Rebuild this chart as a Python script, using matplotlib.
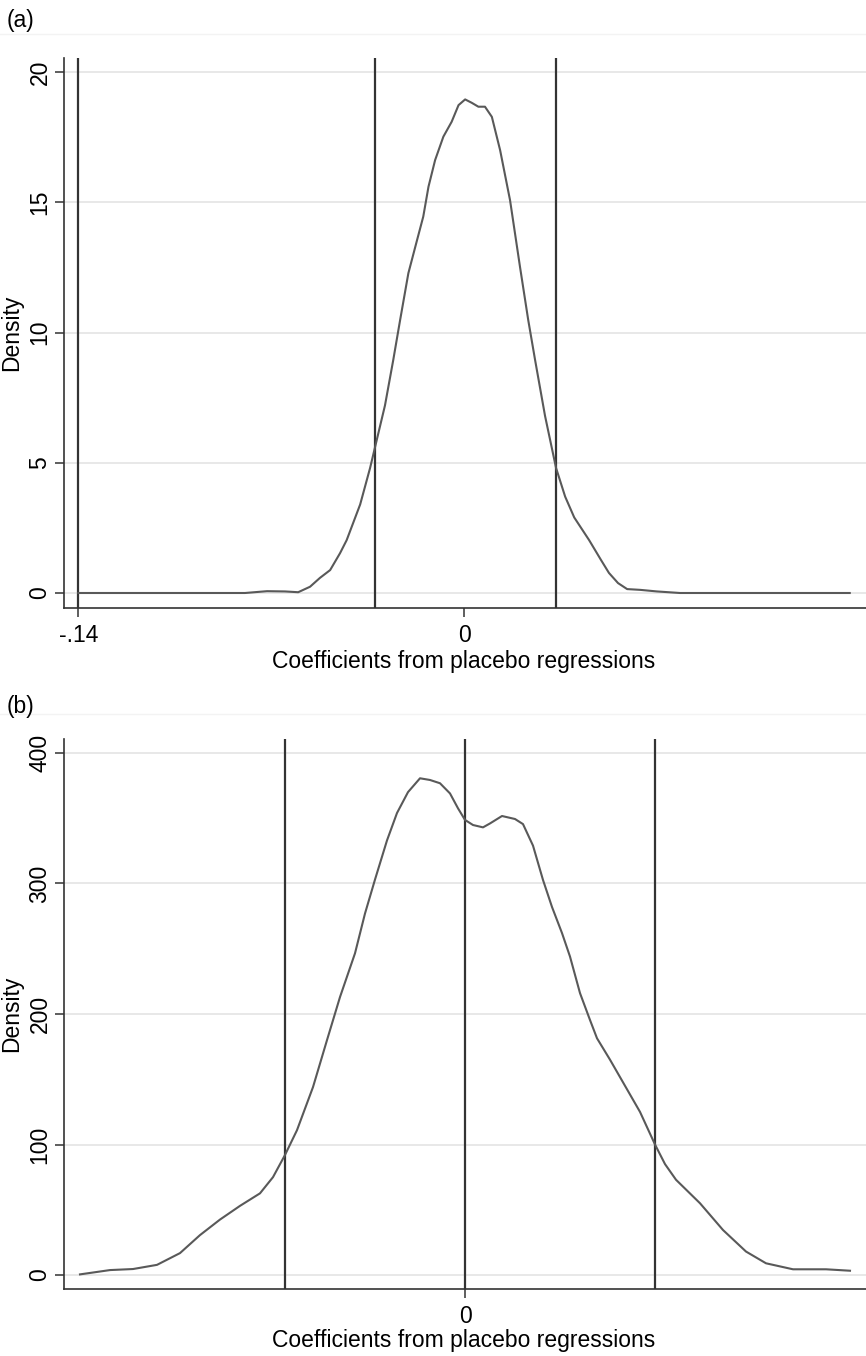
import matplotlib
matplotlib.use("Agg")
import matplotlib.pyplot as plt
from matplotlib.lines import Line2D

plt.rcParams["font.family"] = ["Liberation Sans", "DejaVu Sans"]

# ---- panel (a): kernel density of placebo coefficients -------------------
A_X = [-0.1400, -0.0813, -0.0795, -0.0715, -0.0650, -0.0602, -0.0559, -0.0523,
       -0.0486, -0.0450, -0.0426, -0.0377, -0.0341, -0.0323, -0.0287, -0.0257,
       -0.0232, -0.0202, -0.0172, -0.0148, -0.0129, -0.0105, -0.0075, -0.0045,
       -0.0020, 0.0004, 0.0028, 0.0052, 0.0076, 0.0101, 0.0131, 0.0167,
       0.0203, 0.0233, 0.0258, 0.0294, 0.0334, 0.0367, 0.0400, 0.0454,
       0.0497, 0.0526, 0.0559, 0.0592, 0.0640, 0.0700, 0.0784, 0.1400]
A_DENS = [0.0, 0.0, 0.0, 0.07, 0.06, 0.03, 0.24, 0.58,
          0.88, 1.53, 2.03, 3.4, 4.8, 5.6, 7.2, 8.94,
          10.48, 12.28, 13.49, 14.45, 15.60, 16.62, 17.52, 18.09,
          18.73, 18.95, 18.82, 18.67, 18.67, 18.28, 17.0, 15.08,
          12.53, 10.48, 8.94, 6.8, 4.8, 3.7, 2.9, 2.03,
          1.27, 0.77, 0.38, 0.15, 0.12, 0.06, 0.0, 0.0]
A_VLINES = [-0.14, -0.0323, 0.0334]
A_XTICKS = [-0.14, 0]
A_XTICKLABELS = ["-.14", "0"]
A_YTICKS = [0, 5, 10, 15, 20]

# ---- panel (b) -----------------------------------------------------------
B_X = [-0.00385, -0.00355, -0.00332, -0.00308, -0.00285, -0.00265, -0.00245,
       -0.00225, -0.00205, -0.00192, -0.00180, -0.00168, -0.00152, -0.00138,
       -0.00125, -0.00110, -0.00100, -0.00090, -0.00078, -0.00068, -0.00057,
       -0.00045, -0.00035, -0.00025, -0.00015, -0.00007, 0.0, 0.00008,
       0.00018, 0.00025, 0.00037, 0.00050, 0.00058, 0.00068, 0.00078,
       0.00087, 0.00097, 0.00105, 0.00115, 0.00125, 0.00132, 0.00145,
       0.00160, 0.00175, 0.00190, 0.00200, 0.00211, 0.00235, 0.00258,
       0.00281, 0.00301, 0.00328, 0.00361, 0.00385]
B_DENS = [0.5, 3.8, 4.6, 7.8, 16.8, 30.6, 42.5,
          53.0, 62.6, 75.0, 92.0, 111.0, 144.0, 180.0,
          213.0, 246.5, 277.0, 303.0, 333.0, 354.0, 370.0,
          380.6, 379.3, 376.8, 369.0, 357.6, 348.7, 344.8,
          343.0, 346.0, 351.7, 349.4, 345.5, 329.0, 302.7,
          282.0, 262.0, 244.0, 216.0, 195.4, 181.4, 165.0,
          145.0, 125.0, 100.0, 85.0, 73.0, 55.0, 34.5,
          18.0, 9.0, 4.4, 4.4, 3.3]
B_VLINES = [-0.0018, 0.0, 0.0019]
B_XTICKS = [0]
B_XTICKLABELS = ["0"]
B_YTICKS = [0, 100, 200, 300, 400]

W, H = 866, 1356
FS = 16.5
DARK = "#333333"

fig = plt.figure(figsize=(W / 100, H / 100), dpi=100)


def px_rect(left, top, right, bottom):
    return [left / W, 1 - bottom / H, (right - left) / W, (bottom - top) / H]


def panel(rect, x, dens, vlines, xticks, xticklabels, yticks, xlim, ylim,
          tag, tag_y, xlabel_base, sep_y):
    ax = fig.add_axes(rect)
    ax.set_xlim(*xlim)
    ax.set_ylim(*ylim)
    for y in yticks:
        ax.axhline(y, color="#e6e6e6", lw=1.3, zorder=0)
    for v in vlines:
        ax.axvline(v, color=DARK, lw=1.6, zorder=2)
    ax.plot(x, dens, color="#595959", lw=1.5, zorder=3,
            solid_joinstyle="round")

    ax.set_xticks(xticks)
    ax.set_xticklabels(xticklabels)
    ax.set_yticks(yticks)
    ax.set_yticklabels([str(t) for t in yticks], rotation=90, va="center")
    ax.tick_params(axis="both", length=6.5, width=1.1, color=DARK,
                   labelsize=FS, labelcolor="black")
    ax.tick_params(axis="x", pad=5)
    ax.tick_params(axis="y", pad=2.5)
    for s in ("top", "right"):
        ax.spines[s].set_visible(False)
    for s in ("left", "bottom"):
        ax.spines[s].set_color(DARK)
        ax.spines[s].set_linewidth(1.2)

    bb = ax.get_position()
    fig.text(12 / W, (bb.y0 + bb.y1) / 2, "Density", rotation=90,
             ha="center", va="center", fontsize=FS)
    fig.text(464 / W, 1 - xlabel_base / H, "Coefficients from placebo regressions",
             ha="center", va="baseline", fontsize=FS)
    fig.text(7 / W, 1 - tag_y / H, tag, ha="left", va="center", fontsize=FS)
    fig.add_artist(Line2D([0, 1], [1 - sep_y / H] * 2, color="#f3f3f3", lw=1))
    return ax


panel(px_rect(64, 58, 866, 608), A_X, A_DENS, A_VLINES, A_XTICKS, A_XTICKLABELS,
      A_YTICKS, (-0.1452, 0.1459), (-0.576, 20.54), "(a)", 20.5, 668, 34)
panel(px_rect(64, 739, 866, 1289), B_X, B_DENS, B_VLINES, B_XTICKS, B_XTICKLABELS,
      B_YTICKS, (-0.00401, 0.00401), (-10.7, 410.7), "(b)", 706, 1347, 714)

fig.savefig("out.png", dpi=100)
